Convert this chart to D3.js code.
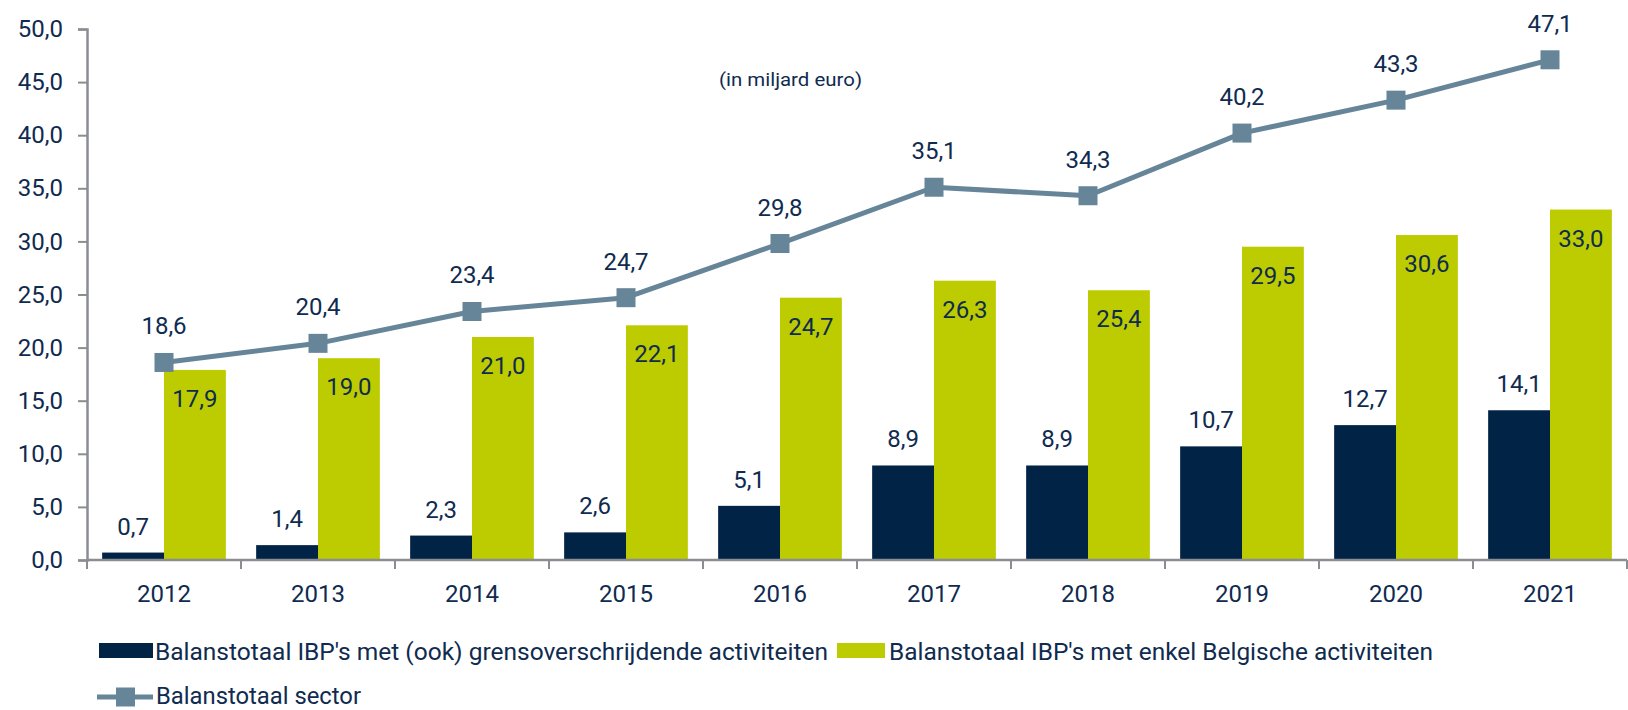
<!DOCTYPE html>
<html><head><meta charset="utf-8">
<script src="https://cdn.jsdelivr.net/npm/d3@7"></script>
<style>body{margin:0;background:#fff}svg{display:block}text{font-family:Roboto,"Noto Sans",sans-serif;fill:#0f2b4f}</style>
</head><body><div id="chart"></div>
<script>
const years = ["2012","2013","2014","2015","2016","2017","2018","2019","2020","2021"];
const crossBorder = [0.7,1.4,2.3,2.6,5.1,8.9,8.9,10.7,12.7,14.1];
const belgianOnly = [17.9,19.0,21.0,22.1,24.7,26.3,25.4,29.5,30.6,33.0];
const sectorTotal = [18.6,20.4,23.4,24.7,29.8,35.1,34.3,40.2,43.3,47.1];
const yTicks = [0,5,10,15,20,25,30,35,40,45,50];
const seriesNames = ["Balanstotaal IBP's met (ook) grensoverschrijdende activiteiten","Balanstotaal IBP's met enkel Belgische activiteiten","Balanstotaal sector"];
const unitNote = "(in miljard euro)";

const W=1628,H=710;
const colDark="#002346", colGreen="#bdcc00", colLine="#678599", colAxis="#8a8d91", colText="#0f2b4f";
const svg=d3.select("#chart").append("svg").attr("width",W).attr("height",H);
const x=d3.scaleBand().domain(years).range([87,1627]).padding(0);
const inner=d3.scaleBand().domain(["a","b"]).range([0,x.bandwidth()]).paddingOuter(0.245).paddingInner(0);
const y=d3.scaleLinear().domain([0,50]).range([560,29]);
const fmt=v=>d3.format(".1f")(v).replace(".",",");

// y axis
const ya=svg.append("g").attr("transform","translate(87,0)")
  .call(d3.axisLeft(y).tickValues(yTicks).tickFormat(fmt).tickSize(9).tickPadding(15));
ya.select(".domain").attr("stroke",colAxis).attr("stroke-width",2.5);
ya.selectAll(".tick line").attr("stroke",colAxis).attr("stroke-width",2);
ya.selectAll(".tick text").attr("font-size",24).attr("fill",colText).attr("font-family","Roboto");

// bars
const g=svg.append("g");
g.selectAll("rect.dark").data(years).join("rect").attr("class","dark")
  .attr("x",(d)=>x(d)+inner("a")).attr("width",inner.bandwidth())
  .attr("y",(d,i)=>y(crossBorder[i])).attr("height",(d,i)=>y(0)-y(crossBorder[i])).attr("fill",colDark);
g.selectAll("rect.green").data(years).join("rect").attr("class","green")
  .attr("x",(d)=>x(d)+inner("b")).attr("width",inner.bandwidth())
  .attr("y",(d,i)=>y(belgianOnly[i])).attr("height",(d,i)=>y(0)-y(belgianOnly[i])).attr("fill",colGreen);

// x axis
const xa=svg.append("g").attr("transform","translate(0,560)");
xa.append("line").attr("x1",87).attr("x2",1627).attr("stroke",colAxis).attr("stroke-width",2.5);
const bounds=years.map(d=>x(d)).concat([x.range()[1]]);
xa.selectAll("line.t").data(bounds).join("line").attr("class","t")
  .attr("x1",d=>d).attr("x2",d=>d).attr("y1",0).attr("y2",9).attr("stroke",colAxis).attr("stroke-width",2);
xa.selectAll("text").data(years).join("text").attr("x",d=>x(d)+x.bandwidth()/2).attr("y",42)
  .attr("text-anchor","middle").attr("font-size",24).text(d=>d);

// bar labels
g.selectAll("text.dl").data(years).join("text").attr("class","dl")
  .attr("x",d=>x(d)+inner("a")+inner.bandwidth()/2).attr("y",(d,i)=>y(crossBorder[i])-18)
  .attr("text-anchor","middle").attr("font-size",24).text((d,i)=>fmt(crossBorder[i]));
g.selectAll("text.gl").data(years).join("text").attr("class","gl")
  .attr("x",d=>x(d)+inner("b")+inner.bandwidth()/2).attr("y",(d,i)=>y(belgianOnly[i])+37)
  .attr("text-anchor","middle").attr("font-size",24).text((d,i)=>fmt(belgianOnly[i]));

// line
const cx=d=>x(d)+x.bandwidth()/2;
const line=d3.line().x((d,i)=>cx(years[i])).y(d=>y(d));
svg.append("path").datum(sectorTotal).attr("d",line).attr("fill","none").attr("stroke",colLine).attr("stroke-width",5).attr("stroke-linejoin","round");
svg.selectAll("rect.mk").data(sectorTotal).join("rect").attr("class","mk")
  .attr("x",(d,i)=>cx(years[i])-9.5).attr("y",d=>y(d)-9.5).attr("width",19).attr("height",19).attr("fill",colLine);
svg.selectAll("text.ll").data(sectorTotal).join("text").attr("class","ll")
  .attr("x",(d,i)=>cx(years[i])).attr("y",d=>y(d)-28).attr("text-anchor","middle").attr("font-size",24).text(d=>fmt(d));

// note
svg.append("text").attr("x",719).attr("y",86).attr("font-size",19).attr("textLength",143).attr("lengthAdjust","spacingAndGlyphs").text(unitNote);

// legend
const lg=svg.append("g");
lg.append("rect").attr("x",99).attr("y",643).attr("width",54).attr("height",15).attr("fill",colDark);
lg.append("text").attr("x",155).attr("y",660).attr("font-size",24).attr("textLength",673).attr("lengthAdjust","spacingAndGlyphs").text(seriesNames[0]);
lg.append("rect").attr("x",837).attr("y",643).attr("width",48).attr("height",15).attr("fill",colGreen);
lg.append("text").attr("x",889).attr("y",660).attr("font-size",24).attr("textLength",544).attr("lengthAdjust","spacingAndGlyphs").text(seriesNames[1]);
lg.append("line").attr("x1",97).attr("x2",153).attr("y1",697).attr("y2",697).attr("stroke",colLine).attr("stroke-width",5);
lg.append("rect").attr("x",116).attr("y",687.5).attr("width",19).attr("height",19).attr("fill",colLine);
lg.append("text").attr("x",156).attr("y",704).attr("font-size",23).attr("textLength",205).attr("lengthAdjust","spacingAndGlyphs").text(seriesNames[2]);
</script></body></html>
